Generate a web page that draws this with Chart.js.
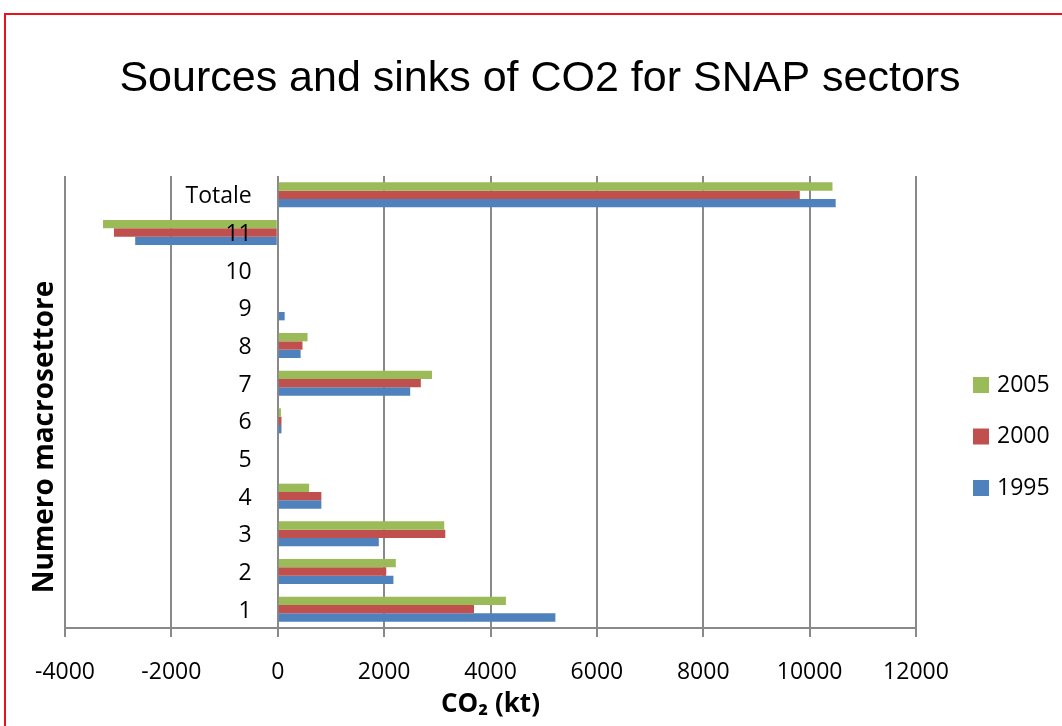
<!DOCTYPE html>
<html>
<head>
<meta charset="utf-8">
<script src="https://cdn.jsdelivr.net/npm/chart.js"></script>
<style>
html, body { margin: 0; padding: 0; background: #fff; overflow: hidden; }
#cornice { position: absolute; left: 4px; top: 13px; width: 1100px; height: 800px; border: 2px solid #e8141b; box-sizing: border-box; }
#wrap { position: absolute; left: 0; top: 0; width: 1062px; height: 726px; }
</style>
</head>
<body>
<div id="cornice"></div>
<div id="wrap"><canvas id="myChart" width="1062" height="726"></canvas></div>
<script>
// macrosettori SNAP, dal basso verso l'alto
const categorie = ['1', '2', '3', '4', '5', '6', '7', '8', '9', '10', '11', 'Totale']
const anni = ['2005', '2000', '1995']

// CO2 in kt
const co2_2005 = [4290, 2220, 3130, 590, 0, 60, 2900, 560, 0, 0, -3285, 10430]
const co2_2000 = [3690, 2040, 3150, 820, 0, 70, 2690, 465, 0, 0, -3080, 9815]
const co2_1995 = [5220, 2175, 1900, 820, 0, 70, 2490, 430, 130, 0, -2680, 10490]

const titolo = 'Sources and sinks of CO2 for SNAP sectors'
const titoloX = 'CO\u2082 (kt)'
const titoloY = 'Numero macrosettore'

Chart.defaults.font.family = '"Open Sans"'
Chart.defaults.color = '#000'

// titolo, titolo asse verticale e legenda a destra
const scritte = {
    id: 'scritte',
    afterDraw(chart) {
        let ctx = chart.ctx
        let area = chart.chartArea
        ctx.save()
        ctx.font = '43px "Liberation Sans"'
        ctx.fillStyle = '#000'
        ctx.textAlign = 'center'
        ctx.textBaseline = 'middle'
        ctx.fillText(titolo, 540, 79)
        ctx.restore()

        ctx.save()
        ctx.font = 'bold 28px "Open Sans"'
        ctx.fillStyle = '#000'
        ctx.textAlign = 'center'
        ctx.textBaseline = 'middle'
        ctx.translate(area.left - 20, area.top + 261)
        ctx.rotate(-Math.PI / 2)
        ctx.fillText(titoloY, 0, 0)
        ctx.restore()

        ctx.save()
        ctx.font = '23px "Open Sans"'
        ctx.textBaseline = 'middle'
        chart.data.datasets.forEach(function(ds, i) {
            let y = area.top + 209 + i * 51.5
            ctx.fillStyle = ds.backgroundColor
            ctx.fillRect(area.right + 57, y - 8, 16, 16)
            ctx.fillStyle = '#000'
            ctx.fillText(ds.label, area.right + 81, y)
        })
        ctx.restore()
    }
}

let ctx = document.getElementById('myChart')
let dati = {
    labels: categorie,
    datasets: [
        { label: anni[0], data: co2_2005, backgroundColor: '#9bbb59' },
        { label: anni[1], data: co2_2000, backgroundColor: '#c0504d' },
        { label: anni[2], data: co2_1995, backgroundColor: '#4f81bd' },
    ],
}

let opzioni = {
    indexAxis: 'y',
    responsive: false,
    animation: false,
    categoryPercentage: 0.664,
    barPercentage: 1,
    layout: { padding: { left: 65, right: 146, top: 176, bottom: 0 } },
    plugins: {
        legend: { display: false },
        tooltip: { enabled: false },
    },
    scales: {
        x: {
            min: -4000,
            max: 12000,
            ticks: {
                stepSize: 2000,
                font: { size: 23 },
                padding: 22,
                callback: function(v) { return String(v) },
            },
            grid: { color: '#898989', lineWidth: 2, tickLength: 9 },
            border: { color: '#898989', width: 2 },
            title: {
                display: true,
                text: titoloX,
                font: { size: 26, weight: 'bold' },
                padding: { top: 0, bottom: 6 },
            },
            afterFit: function(scale) { scale.height = 98 },
        },
        y: {
            reverse: true,
            position: { x: -490 },
            grid: { display: false, drawTicks: false },
            border: { display: false },
            ticks: { font: { size: 23 }, padding: 0, labelOffset: 2, z: 1 },
        },
    },
}

new Chart(ctx, {
    type: 'bar',
    data: dati,
    options: opzioni,
    plugins: [scritte],
})
</script>
</body>
</html>
